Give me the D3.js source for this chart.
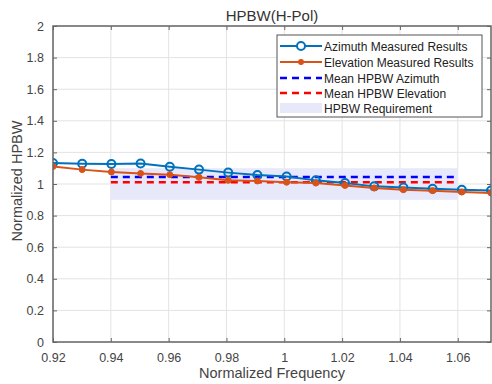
<!DOCTYPE html>
<html>
<head>
<meta charset="utf-8">
<script src="https://cdn.jsdelivr.net/npm/d3@7"></script>
<style>
  body { margin: 0; background: #fff; }
  text { font-family: "Liberation Sans", Arial, sans-serif; }
</style>
</head>
<body>
<script>
// HPBW vs normalized frequency, H-pol

var freq = [0.92, 0.9301, 0.9402, 0.9503, 0.9604, 0.9705, 0.9806, 0.9907,
  1.0008, 1.0109, 1.0210, 1.0311, 1.0412, 1.0513, 1.0614, 1.0715];
var azimuth = [1.133, 1.128, 1.127, 1.130, 1.109, 1.091, 1.072, 1.057,
  1.048, 1.023, 1.006, 0.985, 0.978, 0.970, 0.963, 0.959];
var elevation = [1.111, 1.091, 1.076, 1.067, 1.059, 1.042, 1.023, 1.019,
  1.011, 1.006, 0.991, 0.975, 0.964, 0.958, 0.949, 0.943];
var meanAz = 1.044;
var meanEl = 1.011;
var reqRange = [0.9, 1.1];
var reqFreq = [0.94, 1.06];
var xTicks = [0.92, 0.94, 0.96, 0.98, 1, 1.02, 1.04, 1.06];
var yTicks = [0, 0.2, 0.4, 0.6, 0.8, 1, 1.2, 1.4, 1.6, 1.8, 2];
var legendLabels = ['Azimuth Measured Results', 'Elevation Measured Results',
  'Mean HPBW Azimuth', 'Mean HPBW Elevation', 'HPBW Requirement'];

var W = 492, H = 384;
var m = { left: 53, right: 491, top: 26, bottom: 342 };

var svg = d3.select('body').append('svg')
  .attr('width', W)
  .attr('height', H);

var x = d3.scaleLinear().domain([0.92, 1.0715]).range([m.left, m.right]);
var y = d3.scaleLinear().domain([0, 2]).range([m.bottom, m.top]);

svg.append('clipPath').attr('id', 'clip')
  .append('rect')
  .attr('x', m.left).attr('y', m.top)
  .attr('width', m.right - m.left).attr('height', m.bottom - m.top);

// grid
svg.append('g').selectAll('line.gx')
  .data(xTicks)
  .enter().append('line')
  .attr('x1', function (d) { return x(d); })
  .attr('x2', function (d) { return x(d); })
  .attr('y1', m.top).attr('y2', m.bottom)
  .style('stroke', '#e3e3e3').style('stroke-width', 1);

svg.append('g').selectAll('line.gy')
  .data(yTicks)
  .enter().append('line')
  .attr('x1', m.left).attr('x2', m.right)
  .attr('y1', function (d) { return y(d); })
  .attr('y2', function (d) { return y(d); })
  .style('stroke', '#e3e3e3').style('stroke-width', 1);

var plot = svg.append('g').attr('clip-path', 'url(#clip)');

// requirement band
plot.append('rect')
  .attr('x', x(reqFreq[0]))
  .attr('width', x(reqFreq[1]) - x(reqFreq[0]))
  .attr('y', y(reqRange[1]))
  .attr('height', y(reqRange[0]) - y(reqRange[1]))
  .style('fill', '#e8e8fb');

// mean lines
plot.append('line')
  .attr('x1', x(reqFreq[0])).attr('x2', x(reqFreq[1]))
  .attr('y1', y(meanAz)).attr('y2', y(meanAz))
  .style('stroke', '#0000ff').style('stroke-width', 2.5)
  .style('stroke-dasharray', '7,5');

plot.append('line')
  .attr('x1', x(reqFreq[0])).attr('x2', x(reqFreq[1]))
  .attr('y1', y(meanEl)).attr('y2', y(meanEl))
  .style('stroke', '#ff0000').style('stroke-width', 2.5)
  .style('stroke-dasharray', '7,5');

var line = d3.line()
  .x(function (d) { return x(d[0]); })
  .y(function (d) { return y(d[1]); });

var azPts = d3.zip(freq, azimuth);
var elPts = d3.zip(freq, elevation);

plot.append('path')
  .datum(azPts)
  .attr('d', line)
  .style('fill', 'none').style('stroke', '#0072bd').style('stroke-width', 2);

plot.selectAll('circle.az')
  .data(azPts)
  .enter().append('circle')
  .attr('cx', function (d) { return x(d[0]); })
  .attr('cy', function (d) { return y(d[1]); })
  .attr('r', 4)
  .style('fill', 'none').style('stroke', '#0072bd').style('stroke-width', 2);

plot.append('path')
  .datum(elPts)
  .attr('d', line)
  .style('fill', 'none').style('stroke', '#d95319').style('stroke-width', 2);

plot.selectAll('circle.el')
  .data(elPts)
  .enter().append('circle')
  .attr('cx', function (d) { return x(d[0]); })
  .attr('cy', function (d) { return y(d[1]); })
  .attr('r', 3)
  .style('fill', '#d95319').style('stroke', '#d95319').style('stroke-width', 1);

// axes (box with ticks inward on all sides)
var axisColor = '#666';
function styleAxis(g) {
  g.select('.domain').remove();
  g.selectAll('.tick line').style('stroke', axisColor);
  g.selectAll('.tick text').style('fill', '#444').style('font-size', '12.5px');
}

svg.append('g')
  .attr('transform', 'translate(0,' + m.bottom + ')')
  .call(d3.axisBottom(x).tickValues(xTicks).tickSize(-4).tickPadding(11)
    .tickFormat(d3.format('')))
  .call(styleAxis);

svg.append('g')
  .attr('transform', 'translate(0,' + m.top + ')')
  .call(d3.axisTop(x).tickValues(xTicks).tickSize(-4).tickFormat(''))
  .call(styleAxis);

svg.append('g')
  .attr('transform', 'translate(' + m.left + ',0)')
  .call(d3.axisLeft(y).tickValues(yTicks).tickSize(-4).tickPadding(9)
    .tickFormat(d3.format('')))
  .call(styleAxis);

svg.append('g')
  .attr('transform', 'translate(' + m.right + ',0)')
  .call(d3.axisRight(y).tickValues(yTicks).tickSize(-4).tickFormat(''))
  .call(styleAxis);

svg.append('rect')
  .attr('x', m.left).attr('y', m.top)
  .attr('width', m.right - m.left).attr('height', m.bottom - m.top)
  .style('fill', 'none').style('stroke', axisColor).style('stroke-width', 1.5);

// titles
svg.append('text')
  .attr('x', 272).attr('y', 21)
  .attr('text-anchor', 'middle')
  .style('font-size', '15px').style('fill', '#333')
  .text('HPBW(H-Pol)');

svg.append('text')
  .attr('x', 272).attr('y', 378)
  .attr('text-anchor', 'middle')
  .style('font-size', '14.5px').style('fill', '#444')
  .text('Normalized Frequency');

svg.append('text')
  .attr('transform', 'translate(22,181) rotate(-90)')
  .attr('text-anchor', 'middle')
  .style('font-size', '14.5px').style('fill', '#444')
  .text('Normalized HPBW');

// legend
var leg = svg.append('g').attr('transform', 'translate(277,35)');
leg.append('rect')
  .attr('width', 205).attr('height', 82)
  .style('fill', '#fff').style('stroke', '#555').style('stroke-width', 1);

var rowY = [11, 27, 43, 58, 73];
var item = leg.selectAll('g.item')
  .data(legendLabels)
  .enter().append('g')
  .attr('transform', function (d, i) { return 'translate(0,' + rowY[i] + ')'; });

item.append('text')
  .attr('x', 47).attr('y', 4.5)
  .style('font-size', '12px').style('fill', '#222')
  .text(function (d) { return d; });

// samples
var s0 = item.filter(function (d, i) { return i === 0; });
s0.append('line').attr('x1', 3).attr('x2', 45)
  .style('stroke', '#0072bd').style('stroke-width', 2);
s0.append('circle').attr('cx', 24).attr('r', 4)
  .style('fill', '#fff').style('stroke', '#0072bd').style('stroke-width', 2);

var s1 = item.filter(function (d, i) { return i === 1; });
s1.append('line').attr('x1', 3).attr('x2', 45)
  .style('stroke', '#d95319').style('stroke-width', 2);
s1.append('circle').attr('cx', 24).attr('r', 3).style('fill', '#d95319');

var s2 = item.filter(function (d, i) { return i === 2; });
s2.append('line').attr('x1', 3).attr('x2', 45)
  .style('stroke', '#0000ff').style('stroke-width', 2.5).style('stroke-dasharray', '7,5');

var s3 = item.filter(function (d, i) { return i === 3; });
s3.append('line').attr('x1', 3).attr('x2', 45)
  .style('stroke', '#ff0000').style('stroke-width', 2.5).style('stroke-dasharray', '7,5');

var s4 = item.filter(function (d, i) { return i === 4; });
s4.append('rect').attr('x', 3).attr('y', -5).attr('width', 42).attr('height', 10)
  .style('fill', '#e8e8fb');
</script>
</body>
</html>
